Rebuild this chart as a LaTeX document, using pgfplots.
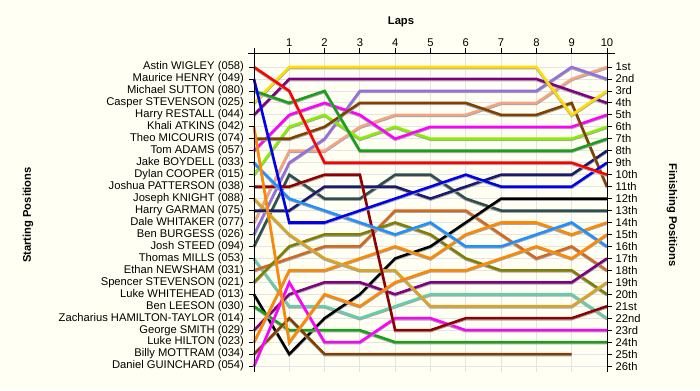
\documentclass[border=0pt]{standalone}
\usepackage{fontspec}
\setmainfont{Liberation Sans}
\usepackage{pgfplots}
\pgfplotsset{compat=1.18}
\definecolor{bg}{HTML}{FFFFF4}
\definecolor{gridc}{HTML}{E4E4E4}
\definecolor{cRed}{HTML}{FF0000}
\definecolor{cBlue}{HTML}{0000EE}
\definecolor{cGreen}{HTML}{18A018}
\definecolor{cYellow}{HTML}{FFDD00}
\definecolor{cPurple}{HTML}{800080}
\definecolor{cOrange}{HTML}{FF8800}
\definecolor{cBrown}{HTML}{804000}
\definecolor{cMagenta}{HTML}{FF00FF}
\definecolor{cDodger}{HTML}{2090FF}
\definecolor{cLime}{HTML}{88EE00}
\definecolor{cDarkRed}{HTML}{900000}
\definecolor{cGold}{HTML}{DAA520}
\definecolor{cNavy}{HTML}{1A1A6E}
\definecolor{cPeach}{HTML}{F4A484}
\definecolor{cLav}{HTML}{9370DB}
\definecolor{cSlate}{HTML}{2F4F4F}
\definecolor{cAqua}{HTML}{66CDAA}
\definecolor{cChoc}{HTML}{D2691E}
\definecolor{cOlive}{HTML}{808000}
\newcommand{\lbl}{\fontsize{8.4}{10}\selectfont}
\begin{document}
\begin{tikzpicture}
\path[use as bounding box, fill=bg] (-190.5pt,-13.5pt) rectangle (334.5pt,279pt);
\begin{axis}[
  at={(0,0)}, anchor=south west, scale only axis,
  width=264.75pt, height=239.25pt,
  xmin=0, xmax=10, ymin=-26.5, ymax=0.17,
  y filter/.expression={-y},
  axis line style={draw=none},
  xtick={0,...,10}, xticklabels={,1,2,3,4,5,6,7,8,9,10},
  xtick pos=right, xticklabel pos=right,
  ytick={-26,...,-1},
  yticklabels={Daniel GUINCHARD (054),Billy MOTTRAM (034),Luke HILTON (023),George SMITH (029),Zacharius HAMILTON-TAYLOR (014),Ben LEESON (030),Luke WHITEHEAD (013),Spencer STEVENSON (021),Ethan NEWSHAM (031),Thomas MILLS (053),Josh STEED (094),Ben BURGESS (026),Dale WHITAKER (077),Harry GARMAN (075),Joseph KNIGHT (088),Joshua PATTERSON (038),Dylan COOPER (015),Jake BOYDELL (033),Tom ADAMS (057),Theo MICOURIS (074),Khali ATKINS (042),Harry RESTALL (044),Casper STEVENSON (025),Michael SUTTON (080),Maurice HENRY (049),Astin WIGLEY (058)},
  ytick pos=left,
  tick align=outside, major tick length=4pt,
  tick style={black, line width=0.6pt},
  grid=major, major grid style={draw=gridc, line width=0.6pt},
  tick label style={font=\lbl},
  xticklabel style={yshift=-2.5pt},
  clip=false,
  sh/.style={line width=1.9pt, preaction={draw=black!35, line width=1.9pt, transform canvas={yshift=-0.8pt}}},
]
\addplot[cPeach,sh] coordinates {(0,14)(1,8)(2,8)(3,6)(4,5)(5,5)(6,5)(7,4)(8,4)(9,2)(10,1)};
\addplot[cLav,sh] coordinates {(0,15)(1,9)(2,7)(3,3)(4,3)(5,3)(6,3)(7,3)(8,3)(9,1)(10,2)};
\addplot[cSlate,sh] coordinates {(0,16)(1,10)(2,12)(3,12)(4,10)(5,10)(6,12)(7,13)(8,13)(9,13)(10,13)};
\addplot[cAqua,sh] coordinates {(0,17)(1,21)(2,21)(3,22)(4,21)(5,20)(6,20)(7,20)(8,20)(9,20)(10,22)};
\addplot[cChoc,sh] coordinates {(0,18)(1,17)(2,16)(3,16)(4,13)(5,13)(6,13)(7,15)(8,17)(9,16)(10,18)};
\addplot[cOlive,sh] coordinates {(0,19)(1,16)(2,15)(3,15)(4,14)(5,15)(6,17)(7,18)(8,18)(9,18)(10,20)};
\addplot[black,sh] coordinates {(0,20)(1,25)(2,22)(3,20)(4,17)(5,16)(6,14)(7,12)(8,12)(9,12)(10,12)};
\addplot[cGreen,sh] coordinates {(0,21)(1,23)(2,23)(3,23)(4,24)(5,24)(6,24)(7,24)(8,24)(9,24)(10,24)};
\addplot[cPurple,sh] coordinates {(0,23)(1,20)(2,19)(3,19)(4,20)(5,19)(6,19)(7,19)(8,19)(9,19)(10,17)};
\addplot[cOrange,sh] coordinates {(0,24)(1,18)(2,18)(3,17)(4,16)(5,17)(6,15)(7,14)(8,14)(9,15)(10,14)};
\addplot[cBrown,sh] coordinates {(0,25)(1,22)(2,25)(3,25)(4,25)(5,25)(6,25)(7,25)(8,25)(9,25)};
\addplot[cMagenta,sh] coordinates {(0,26)(1,19)(2,24)(3,24)(4,22)(5,22)(6,23)(7,23)(8,23)(9,23)(10,23)};
\addplot[cGold,sh] coordinates {(0,12)(1,15)(2,17)(3,18)(4,18)(5,21)(6,21)(7,21)(8,21)(9,21)(10,19)};
\addplot[cNavy,sh] coordinates {(0,13)(1,13)(2,11)(3,11)(4,11)(5,12)(6,11)(7,10)(8,10)(9,10)(10,8)};
\addplot[cDarkRed,sh] coordinates {(0,11)(1,11)(2,10)(3,10)(4,23)(5,23)(6,22)(7,22)(8,22)(9,22)(10,21)};
\addplot[cLime,sh] coordinates {(0,10)(1,6)(2,5)(3,7)(4,6)(5,7)(6,7)(7,7)(8,7)(9,7)(10,6)};
\addplot[cDodger,sh] coordinates {(0,9)(1,12)(2,13)(3,14)(4,15)(5,14)(6,16)(7,16)(8,15)(9,14)(10,16)};
\addplot[cMagenta,sh] coordinates {(0,8)(1,5)(2,4)(3,5)(4,7)(5,6)(6,6)(7,6)(8,6)(9,6)(10,5)};
\addplot[cBrown,sh] coordinates {(0,7)(1,7)(2,6)(3,4)(4,4)(5,4)(6,4)(7,5)(8,5)(9,4)(10,11)};
\addplot[cOrange,sh] coordinates {(0,6)(1,24)(2,20)(3,21)(4,19)(5,18)(6,18)(7,17)(8,16)(9,17)(10,15)};
\addplot[cPurple,sh] coordinates {(0,5)(1,2)(2,2)(3,2)(4,2)(5,2)(6,2)(7,2)(8,2)(9,3)(10,4)};
\addplot[cYellow,sh] coordinates {(0,4)(1,1)(2,1)(3,1)(4,1)(5,1)(6,1)(7,1)(8,1)(9,5)(10,3)};
\addplot[cGreen,sh] coordinates {(0,3)(1,4)(2,3)(3,8)(4,8)(5,8)(6,8)(7,8)(8,8)(9,8)(10,7)};
\addplot[cBlue,sh] coordinates {(0,2)(1,14)(2,14)(3,13)(4,12)(5,11)(6,10)(7,11)(8,11)(9,11)(10,9)};
\addplot[cRed,sh] coordinates {(0,1)(1,3)(2,9)(3,9)(4,9)(5,9)(6,9)(7,9)(8,9)(9,9)(10,10)};
\draw[black, line width=0.6pt] (axis cs:-0.17,0.17) -- (axis cs:10.23,0.17);
\draw[black, line width=0.6pt] (axis cs:0,0.5) -- (axis cs:0,-26.5);
\draw[black, line width=0.6pt] (axis cs:10,0.5) -- (axis cs:10,-26.5);
\end{axis}
\begin{axis}[
  at={(0,0)}, anchor=south west, scale only axis,
  width=264.75pt, height=239.25pt,
  xmin=0, xmax=10, ymin=-26.5, ymax=0.17,
  axis line style={draw=none}, xtick=\empty,
  ytick={-26,...,-1},
  yticklabels={26th,25th,24th,23rd,22nd,21st,20th,19th,18th,17th,16th,15th,14th,13th,12th,11th,10th,9th,8th,7th,6th,5th,4th,3rd,2nd,1st},
  ytick pos=right, yticklabel pos=right,
  tick align=outside, major tick length=4pt,
  tick style={black, line width=0.6pt},
  tick label style={font=\lbl},
  yticklabel style={xshift=-1pt},
]
\end{axis}
\node[font=\lbl\bfseries] at (110.25pt,262.5pt) {Laps};
\node[font=\lbl\bfseries, rotate=90] at (-169.5pt,117.75pt) {Starting Positions};
\node[font=\lbl\bfseries, rotate=-90] at (313.5pt,117.75pt) {Finishing Positions};
\end{tikzpicture}
\end{document}
